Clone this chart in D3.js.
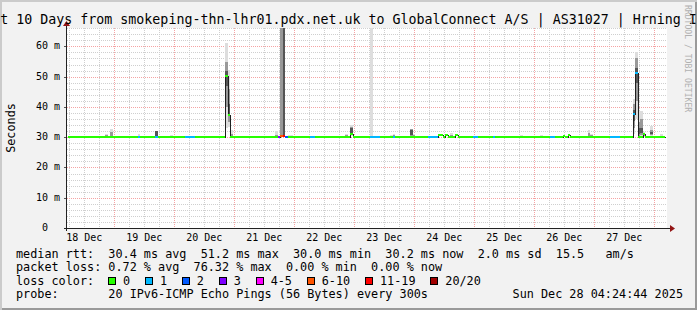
<!DOCTYPE html>
<html>
<head>
<meta charset="utf-8">
<script src="https://cdn.jsdelivr.net/npm/d3@7"></script>
<style>
html, body { margin: 0; padding: 0; background: #f2f2f2; }
svg { display: block; }
text { font-family: "DejaVu Sans Mono", monospace; white-space: pre; fill: #000; }
</style>
</head>
<body>
<script>
// Chart data

var title = 'Last 10 Days from smokeping-thn-lhr01.pdx.net.uk to GlobalConnect A/S | AS31027 | Hrning IPv6';

// graph window (UTC) and the first hourly RRA bin
var graphStart = Date.UTC(2025, 11, 18, 5, 5);
var graphEnd = Date.UTC(2025, 11, 28, 5, 5);
var firstBin = Date.UTC(2025, 11, 18, 5, 20);

var yMax = 66.07; // ms at top of graph
var yLabels = [0, 10, 20, 30, 40, 50, 60];

var lossLabels = ['0', '1', '2', '3', '4-5', '6-10', '11-19', '20/20'];
var lossColors = ['#26ff00', '#00b8ff', '#0059ff', '#7e00ff', '#ff00ff', '#ff5500', '#ff0000', '#a10000'];

// median rtt runs: [from hour, to hour, median ms, loss bucket]
var medianRuns = [
    [0, 28, 30.2, 0], [28, 29, 30.2, 1], [29, 35, 30.2, 0], [35, 36, 30.2, 1],
    [36, 47, 30.2, 0], [47, 51, 30.2, 1], [51, 63, 30.2, 0],
    [63, 64, 50.1, 0], [64, 65, 37.4, 0],
    [65, 84, 30.2, 0], [84, 85, 30.2, 3], [85, 86, 30.3, 5], [86, 87, 30.3, 6],
    [87, 88, 30.2, 2], [88, 97, 30.2, 0], [97, 99, 30.2, 1], [99, 113, 30.2, 0],
    [113, 114, 30.9, 0], [114, 121, 30.2, 0], [121, 125, 30.2, 1], [125, 130, 30.2, 0],
    [130, 131, 30.2, 1], [131, 144, 30.2, 0], [144, 148, 30.2, 1],
    [148, 150, 30.7, 0], [150, 151, 30.2, 0], [151, 152, 30.8, 0], [152, 155, 30.2, 0],
    [155, 156, 30.6, 0], [156, 162, 30.2, 0], [162, 164, 30.2, 1], [164, 170, 30.2, 0],
    [170, 171, 30.2, 1], [171, 193, 30.2, 0], [193, 195, 30.2, 1], [195, 198, 30.2, 0],
    [198, 199, 30.4, 0], [199, 200, 30.2, 0], [200, 201, 30.7, 0], [201, 217, 30.2, 0],
    [217, 221, 30.2, 1], [221, 226, 30.2, 0],
    [226, 227, 37.6, 1], [227, 228, 51.2, 1],
    [228, 230, 30.2, 0], [230, 231, 31.0, 0], [231, 239, 30.2, 0]
];

// smoke: [hour, ping ms sorted low..high]; outer pair = lightest band
var smoke = [
    [15, 30.1, 30.3, 30.6, 31.2],
    [17, 30.1, 30.4, 31.6, 32.7],
    [28, 30.1, 30.2, 30.5, 31.0],
    [35, 30.2, 30.3, 30.5, 32.0, 32.1, 32.2],
    [41, 30.1, 30.2, 30.3, 30.6],
    [63, 33.0, 40.0, 47.0, 52.0, 55.0, 61.0],
    [64, 33.5, 35.0, 37.0, 41.0, 46.0, 52.3],
    [65, 30.1, 30.3, 31.0, 32.5],
    [83, 30.1, 30.3, 30.8, 32.0],
    [85, 30.1, 30.3, 80.0, 90.0],
    [86, 30.1, 30.2, 30.4, 70.0, 80.0, 90.0],
    [88, 30.1, 30.2, 30.3, 30.6],
    [89, 30.1, 30.2, 30.3, 30.7],
    [111, 30.1, 30.3, 30.6, 31.2],
    [113, 30.3, 30.6, 31.0, 33.0, 33.5, 34.0],
    [121, 30.1, 30.2, 30.3, 70.0],
    [129, 30.1, 30.2, 30.4, 30.8],
    [130, 30.2, 30.3, 30.6, 31.0],
    [137, 30.2, 30.4, 30.6, 32.4, 32.6, 32.8],
    [138, 30.2, 30.4, 30.6, 31.2],
    [153, 30.2, 30.4, 30.8, 31.4],
    [181, 30.1, 30.2, 30.4, 30.8],
    [189, 30.1, 30.2, 30.4, 30.8],
    [208, 30.1, 30.5, 31.5, 32.5],
    [209, 30.1, 30.3, 30.6, 31.2],
    [226, 31.0, 33.0, 35.5, 39.0, 41.0, 42.5],
    [227, 36.0, 42.0, 48.0, 53.0, 56.0, 58.3],
    [228, 30.2, 30.5, 31.0, 33.0, 35.0, 38.5],
    [229, 30.2, 30.6, 31.5, 33.0, 36.0, 38.5],
    [230, 30.2, 30.4, 30.8, 31.6],
    [233, 30.2, 30.6, 31.0, 31.8, 32.5, 33.6],
    [237, 30.1, 30.2, 30.4, 30.9]
];

var legendLines = [
    'median rtt:  30.4 ms avg  51.2 ms max  30.0 ms min  30.2 ms now  2.0 ms sd  15.5   am/s',
    'packet loss: 0.72 % avg  76.32 % max  0.00 % min  0.00 % now',
    'loss color:',
    'probe:       20 IPv6-ICMP Echo Pings (56 Bytes) every 300s'
];
var stamp = 'Sun Dec 28 04:24:44 2025';


// ===========================================================================
// Layout

var W = 697, H = 310;
var pLeft = 67, pRight = 667, pTop = 28, pBottom = 228;

var svg = d3.select('body').append('svg')
    .attr('width', W)
    .attr('height', H);

// 3D frame + canvas
svg.append('rect').attr('width', W).attr('height', H).attr('fill', '#cbcbcb');
svg.append('rect').attr('x', 2).attr('y', 2).attr('width', W - 2).attr('height', H - 2).attr('fill', '#9a9a9a');
svg.append('rect').attr('x', 2).attr('y', 2).attr('width', W - 4).attr('height', H - 4).attr('fill', '#f2f2f2');

svg.append('rect')
    .attr('x', pLeft).attr('y', pTop)
    .attr('width', pRight - pLeft).attr('height', pBottom - pTop)
    .attr('fill', '#fff');

var x = d3.scaleUtc().domain([graphStart, graphEnd]).range([pLeft, pRight]);
var y = d3.scaleLinear().domain([0, yMax]).range([pBottom, pTop]);

function binTime(h) {
    return new Date(firstBin + h * 3600e3);
}
function px(v) { return Math.round(v) + 0.5; }

// Grid

var grid = svg.append('g').attr('stroke-dasharray', '1,1').attr('shape-rendering', 'crispEdges');

var minorY = d3.range(2, yMax, 2).filter(function (v) { return v % 10 !== 0; });
var majorY = d3.range(10, yMax, 10);
var days = x.ticks(d3.utcDay.every(1));
var quarters = x.ticks(d3.utcHour.every(6)).filter(function (t) { return t.getUTCHours() !== 0; });

grid.selectAll('line.minory').data(minorY).enter().append('line')
    .attr('x1', pLeft).attr('x2', pRight)
    .attr('y1', function (d) { return px(y(d)); })
    .attr('y2', function (d) { return px(y(d)); })
    .attr('stroke', '#cfcfcf');

grid.selectAll('line.minorx').data(quarters).enter().append('line')
    .attr('y1', pTop).attr('y2', pBottom)
    .attr('x1', function (d) { return px(x(d)); })
    .attr('x2', function (d) { return px(x(d)); })
    .attr('stroke', '#cfcfcf');

grid.selectAll('line.majory').data(majorY).enter().append('line')
    .attr('x1', pLeft).attr('x2', pRight)
    .attr('y1', function (d) { return px(y(d)); })
    .attr('y2', function (d) { return px(y(d)); })
    .attr('stroke', '#f5a3a3');

grid.selectAll('line.majorx').data(days).enter().append('line')
    .attr('y1', pTop).attr('y2', pBottom)
    .attr('x1', function (d) { return px(x(d)); })
    .attr('x2', function (d) { return px(x(d)); })
    .attr('stroke', '#f5a3a3');

// Data

svg.append('clipPath').attr('id', 'clip')
    .append('rect').attr('x', pLeft).attr('y', pTop)
    .attr('width', pRight - pLeft).attr('height', pBottom - pTop);
var plot = svg.append('g')
    .attr('shape-rendering', 'crispEdges')
    .attr('clip-path', 'url(#clip)');

var shade = d3.interpolateRgb('#dddddd', '#555555');

// smoke bands, outer (light) to inner (dark)
smoke.forEach(function (col) {
    var h = col[0];
    var pings = col.slice(1);
    var n = pings.length / 2;
    var x0 = Math.round(x(binTime(h)));
    var x1 = Math.round(x(binTime(h + 1)));
    for (var j = 0; j < n; j++) {
        var y0 = Math.round(y(pings[pings.length - 1 - j]));
        var y1 = Math.round(y(pings[j]));
        plot.append('rect')
            .attr('x', x0).attr('width', x1 - x0)
            .attr('y', y0).attr('height', Math.max(1, y1 - y0))
            .attr('fill', shade(j / 2));
    }
});

// median line (rrdtool draws steps)
var linePts = medianRuns.map(function (r) {
    return [Math.round(x(binTime(r[0]))) + 0.5, Math.round(y(r[2])) + 0.5];
});
var lastRun = medianRuns[medianRuns.length - 1];
linePts.push([Math.round(x(binTime(lastRun[1]))) + 0.5, Math.round(y(lastRun[2])) + 0.5]);

plot.append('path')
    .attr('d', d3.line().curve(d3.curveStepAfter)(linePts))
    .attr('fill', 'none')
    .attr('stroke', '#202020')
    .attr('stroke-width', 1);

// loss coloured median markers
plot.selectAll('rect.med').data(medianRuns).enter().append('rect')
    .attr('x', function (d) { return Math.round(x(binTime(d[0]))); })
    .attr('width', function (d) {
        return Math.round(x(binTime(d[1]))) - Math.round(x(binTime(d[0])));
    })
    .attr('y', function (d) { return Math.round(y(d[2])) - 1; })
    .attr('height', 2)
    .attr('fill', function (d) { return lossColors[d[3]]; });

// Axes

var axis = svg.append('g').attr('shape-rendering', 'crispEdges');

axis.selectAll('line.ytick').data(yLabels).enter().append('line')
    .attr('x1', pLeft - 3).attr('x2', pLeft)
    .attr('y1', function (d) { return px(y(d)); })
    .attr('y2', function (d) { return px(y(d)); })
    .attr('stroke', '#555');

axis.append('line')
    .attr('x1', pLeft - 3).attr('x2', pRight + 4)
    .attr('y1', pBottom + 0.5).attr('y2', pBottom + 0.5)
    .attr('stroke', '#222');
axis.append('line')
    .attr('x1', pLeft - 0.5).attr('x2', pLeft - 0.5)
    .attr('y1', pBottom + 3).attr('y2', pTop - 3)
    .attr('stroke', '#222');

svg.append('path')
    .attr('d', 'M' + (pRight + 3) + ',' + (pBottom - 3) + 'L' + (pRight + 8) + ',' + (pBottom + 0.5) +
        'L' + (pRight + 3) + ',' + (pBottom + 4) + 'Z')
    .attr('fill', '#931515');
svg.append('path')
    .attr('d', 'M' + (pLeft - 4) + ',' + (pTop - 2) + 'L' + (pLeft - 0.5) + ',' + (pTop - 7) +
        'L' + (pLeft + 3) + ',' + (pTop - 2) + 'Z')
    .attr('fill', '#931515');

// y labels
svg.selectAll('text.ylab').data(yLabels).enter().append('text')
    .attr('x', 60)
    .attr('y', function (d) { return Math.round(y(d)) + 3; })
    .attr('text-anchor', 'end')
    .attr('font-size', '10px')
    .text(function (d) { return d === 0 ? '0  ' : d + ' m'; });

// x labels, centred at noon
var noons = d3.utcDay.range(d3.utcDay.floor(new Date(graphStart)), new Date(graphEnd))
    .map(function (d) { return d3.utcHour.offset(d, 12); })
    .filter(function (d) { return d >= graphStart && d <= graphEnd; });

svg.selectAll('text.xlab').data(noons).enter().append('text')
    .attr('x', function (d) { return x(d); })
    .attr('y', 241)
    .attr('text-anchor', 'middle')
    .attr('font-size', '10px')
    .text(d3.utcFormat('%d %b'));

// title
svg.append('text')
    .attr('x', W / 2)
    .attr('y', 24)
    .attr('text-anchor', 'middle')
    .attr('font-size', '13.3px')
    .text(title);

// vertical unit label
svg.append('text')
    .attr('transform', 'translate(15,' + ((pTop + pBottom) / 2) + ') rotate(-90)')
    .attr('text-anchor', 'middle')
    .attr('font-size', '11.8px')
    .text('Seconds');

// watermark
svg.append('text')
    .attr('transform', 'translate(685,5) rotate(90)')
    .attr('font-size', '8.1px')
    .style('fill', '#b0b0b0')
    .text('RRDTOOL / TOBI OETIKER');

// Legend

var legendY = [257.5, 271, 284.5, 298];
legendLines.forEach(function (s, i) {
    svg.append('text')
        .attr('x', 16)
        .attr('y', legendY[i])
        .attr('font-size', '11.8px')
        .text(s);
});

var bx = 108;
lossLabels.forEach(function (lab, i) {
    svg.append('rect')
        .attr('x', bx + 0.5).attr('y', legendY[2] - 7.5)
        .attr('width', 7).attr('height', 7)
        .attr('fill', lossColors[i])
        .attr('stroke', '#000')
        .attr('shape-rendering', 'crispEdges');
    var t = svg.append('text')
        .attr('x', bx + 15)
        .attr('y', legendY[2])
        .attr('font-size', '11.8px')
        .text(lab);
    bx += 15 + t.node().getComputedTextLength() + 14.8;
});

svg.append('text')
    .attr('x', 683)
    .attr('y', legendY[3])
    .attr('text-anchor', 'end')
    .attr('font-size', '11.8px')
    .text(stamp);
</script>
</body>
</html>
